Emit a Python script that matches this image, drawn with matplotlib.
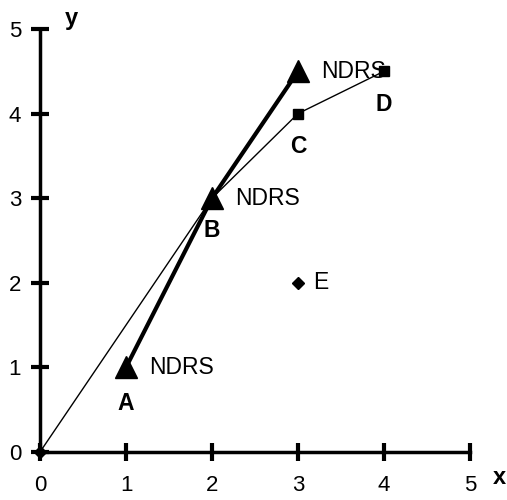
import matplotlib.pyplot as plt

plt.rcParams['font.family'] = ['Liberation Sans', 'DejaVu Sans']

# thin polyline through origin, B, C, D
thin_x = [0, 2, 3, 4]
thin_y = [0, 3, 4, 4.5]
# thick NDRS line
ndrs_x = [1, 2, 3]
ndrs_y = [1, 3, 4.5]
# square points C, D
sq_x = [3, 4]
sq_y = [4, 4.5]
# diamond points (origin and E)
dia_x = [0, 3]
dia_y = [0, 2]

point_names = ['A', 'B', 'C', 'D']
name_x = [1, 2, 3, 4]
name_y = [0.57, 2.62, 3.61, 4.11]

fig = plt.figure(figsize=(5.07, 5.00), dpi=100)
ax = fig.add_axes([40 / 507, 48 / 500, 430 / 507, 423 / 500])

ax.plot(thin_x, thin_y, color='black', lw=1.0, zorder=2)
ax.plot(ndrs_x, ndrs_y, color='black', lw=3.0, zorder=3)
ax.plot(ndrs_x, ndrs_y, ls='none', marker='^', ms=16, color='black', zorder=4)
ax.plot(sq_x, sq_y, ls='none', marker='s', ms=7, color='black', zorder=4)
ax.plot(dia_x, dia_y, ls='none', marker='D', ms=6, color='black', zorder=4, clip_on=False)

fs = 16.5
for x, y in zip(ndrs_x, ndrs_y):
    ax.text(x + 0.27, y, 'NDRS', fontsize=fs, va='center', ha='left')
ax.text(3.18, 2, 'E', fontsize=fs, va='center', ha='left')
for n, x, y in zip(point_names, name_x, name_y):
    ax.text(x, y, n, fontsize=16.5, fontweight='bold', va='center', ha='center')

ax.set_xlim(0, 5)
ax.set_ylim(0, 5)
ax.set_xticks(range(6))
ax.set_yticks(range(6))
ax.tick_params(direction='inout', length=13, width=3, labelsize=16)
ax.tick_params(axis='x', pad=10)
ax.tick_params(axis='y', pad=7)
for s in ['top', 'right']:
    ax.spines[s].set_visible(False)
for s in ['left', 'bottom']:
    ax.spines[s].set_linewidth(2.5)

fig.text(499 / 507, 1 - 478 / 500, 'x', fontsize=17, fontweight='bold', ha='center', va='center')
fig.text(71 / 507, 1 - 18 / 500, 'y', fontsize=17, fontweight='bold', ha='center', va='center')

fig.savefig('out.png', dpi=100)
